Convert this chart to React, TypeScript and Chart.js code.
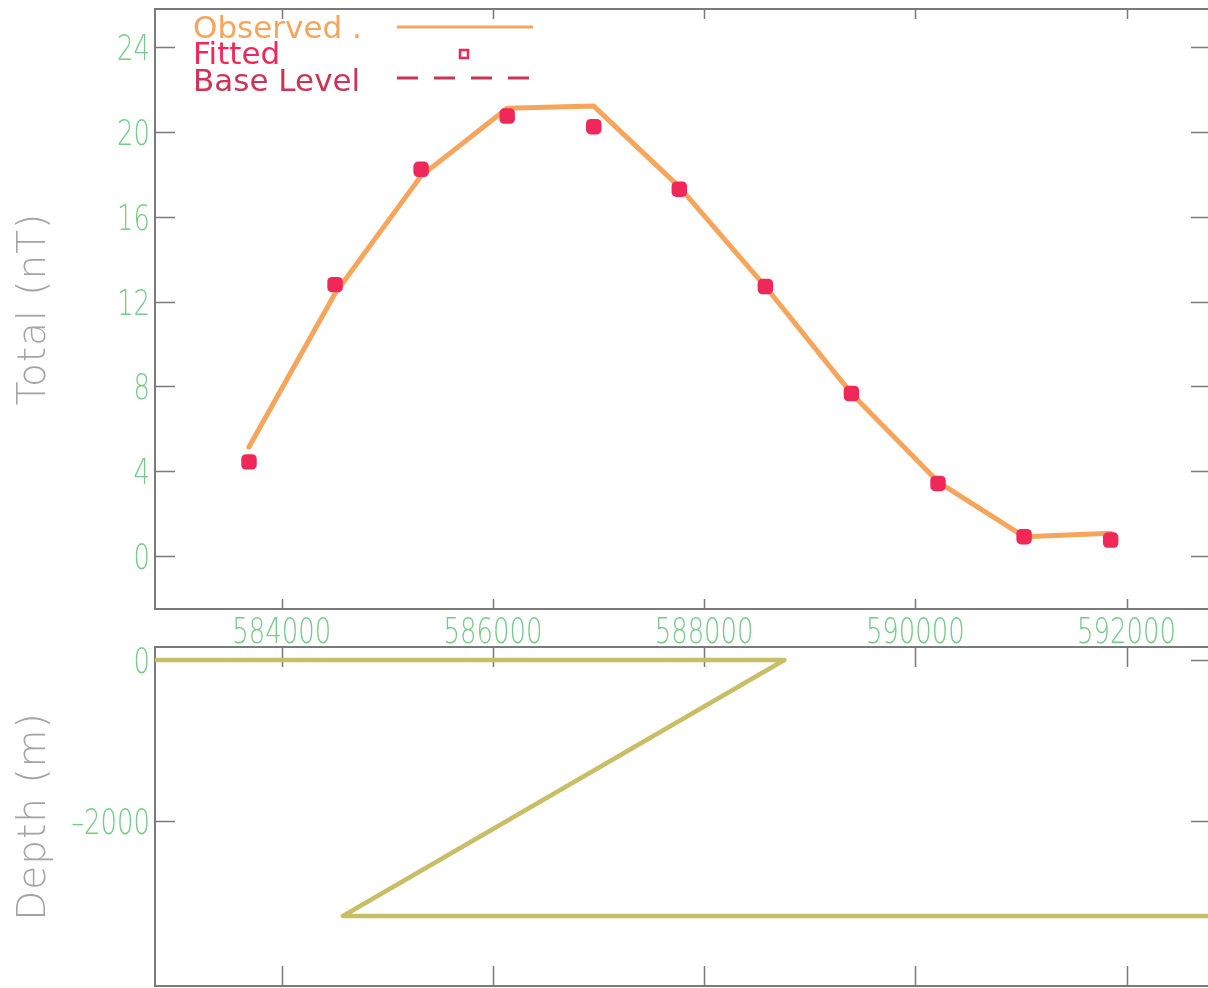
import React, { useEffect, useRef } from 'react';
import { Chart, registerables } from 'chart.js';

Chart.register(...registerables);

// Profile stations (easting, m) and total-field anomaly (nT)
const stationX = [583690, 584505, 585320, 586135, 586955, 587765, 588580, 589395, 590215, 591030, 591850];
const observedNT = [5.14, 12.38, 17.93, 21.12, 21.22, 17.41, 12.71, 7.67, 3.5, 0.91, 1.07];
const fittedNT = [4.44, 12.8, 18.24, 20.75, 20.25, 17.3, 12.71, 7.66, 3.42, 0.91, 0.75];

// Model body outline (easting, depth in m)
const bodyX = [582000, 588760, 584580, 594000];
const bodyDepth = [0, 0, -3180, -3180];

// Axis ticks
const xTicks = [584000, 586000, 588000, 590000, 592000];
const totalTicks = [0, 4, 8, 12, 16, 20, 24];
const depthTicks = [0, -2000];

// Legend entries
const legendLabels = ['Observed .', 'Fitted', 'Base Level'];

const C_OBS = '#F5A65C';
const C_FIT = '#F0285A';
const C_BASE = '#CC3355';
const C_BODY = '#C9BE66';
const C_FRAME = '#7A7A7A';
const C_TICKTXT = '#78CA8A';
const C_TITLE = '#A4A4A4';

const TICK_FONT = "200 35px 'DejaVu Sans', sans-serif";
const TICK_SQUEEZE = 0.74;

// Box frame with inward tick marks on all four sides
const framePlugin = {
  id: 'frame',
  beforeDatasetsDraw(chart: any, _args: any, opts: any) {
    const { ctx, chartArea: a, scales } = chart;
    ctx.save();
    ctx.strokeStyle = C_FRAME;
    ctx.lineWidth = 2;
    ctx.strokeRect(a.left, a.top, a.right - a.left, a.bottom - a.top);
    ctx.lineWidth = 1.5;
    ctx.beginPath();
    for (const t of scales.x.ticks) {
      const px = Math.round(scales.x.getPixelForValue(t.value)) + 0.5;
      ctx.moveTo(px, a.top);
      ctx.lineTo(px, a.top + opts.xLen);
      ctx.moveTo(px, a.bottom);
      ctx.lineTo(px, a.bottom - opts.xLen);
    }
    for (const t of scales.y.ticks) {
      const py = Math.round(scales.y.getPixelForValue(t.value)) + 0.5;
      ctx.moveTo(a.left, py);
      ctx.lineTo(a.left + opts.yLen, py);
      ctx.moveTo(a.right, py);
      ctx.lineTo(a.right - opts.yLen, py);
    }
    ctx.stroke();
    ctx.restore();
  },
};

// Condensed tick labels placed from the scales' own ticks
const tickLabelPlugin = {
  id: 'tickLabels',
  afterDraw(chart: any, _args: any, opts: any) {
    const { ctx, chartArea: a, scales } = chart;
    ctx.save();
    ctx.font = TICK_FONT;
    ctx.fillStyle = C_TICKTXT;
    ctx.textBaseline = 'alphabetic';
    const put = (text: string, x: number, y: number, align: CanvasTextAlign) => {
      ctx.save();
      ctx.translate(x, y);
      ctx.scale(TICK_SQUEEZE, 1);
      ctx.textAlign = align;
      ctx.fillText(text, 0, 0);
      ctx.restore();
    };
    if (opts.showX) {
      for (const t of scales.x.ticks) {
        put(String(t.value), scales.x.getPixelForValue(t.value), a.bottom + 34, 'center');
      }
    }
    for (const t of scales.y.ticks) {
      const txt = t.value < 0 ? '\u2013' + String(-t.value) : String(t.value);
      put(txt, a.left - 5, scales.y.getPixelForValue(t.value) + 13, 'right');
    }
    ctx.restore();
  },
};

// Rotated y-axis title, centred on the plot area
const yTitlePlugin = {
  id: 'yTitle',
  afterDraw(chart: any, _args: any, opts: any) {
    const { ctx, chartArea: a } = chart;
    ctx.save();
    ctx.translate(45, (a.top + a.bottom) / 2);
    ctx.rotate(-Math.PI / 2);
    ctx.font = "200 39px 'DejaVu Sans', sans-serif";
    ctx.fillStyle = C_TITLE;
    ctx.textAlign = 'center';
    ctx.textBaseline = 'alphabetic';
    (ctx as any).letterSpacing = '1px';
    ctx.fillText(opts.text, 0, 0);
    ctx.restore();
  },
};

// Legend block in the upper-left corner of the anomaly panel
const legendPlugin = {
  id: 'profileLegend',
  afterDraw(chart: any) {
    const { ctx } = chart;
    ctx.save();
    ctx.font = "31px 'DejaVu Sans', sans-serif";
    ctx.textAlign = 'left';
    ctx.textBaseline = 'alphabetic';
    const colors = [C_OBS, C_FIT, C_BASE];
    const baselines = [38, 64, 91];
    legendLabels.forEach((lbl, i) => {
      ctx.fillStyle = colors[i];
      ctx.fillText(lbl, 193, baselines[i]);
    });
    // Observed: solid line
    ctx.strokeStyle = C_OBS;
    ctx.lineWidth = 3;
    ctx.beginPath();
    ctx.moveTo(397, 27);
    ctx.lineTo(533, 27);
    ctx.stroke();
    // Fitted: small open square
    ctx.strokeStyle = C_FIT;
    ctx.lineWidth = 2.5;
    ctx.strokeRect(460, 50, 8, 8);
    // Base Level: dashed line
    ctx.strokeStyle = C_BASE;
    ctx.lineWidth = 3;
    ctx.setLineDash([21, 16]);
    ctx.beginPath();
    ctx.moveTo(397, 78);
    ctx.lineTo(531, 78);
    ctx.stroke();
    ctx.restore();
  },
};

const fixY = (s: any) => {
  s.width = 155;
  s.paddingTop = 0;
  s.paddingBottom = 0;
};

function ProfileChart() {
  const ref = useRef<HTMLCanvasElement>(null);
  useEffect(() => {
    if (!ref.current) return;
    const chart = new Chart(ref.current, {
      type: 'scatter',
      data: {
        datasets: [
          {
            label: 'Fitted',
            data: stationX.map((x, i) => ({ x, y: fittedNT[i] })),
            showLine: false,
            pointStyle: 'rectRounded',
            pointRadius: 9,
            pointBackgroundColor: C_FIT,
            pointBorderWidth: 0,
            order: 0,
          },
          {
            label: 'Observed',
            data: stationX.map((x, i) => ({ x, y: observedNT[i] })),
            showLine: true,
            borderColor: C_OBS,
            borderWidth: 5,
            borderJoinStyle: 'round',
            borderCapStyle: 'round',
            pointRadius: 0,
            tension: 0,
            order: 1,
          },
        ],
      },
      options: {
        responsive: false,
        animation: false,
        events: [],
        devicePixelRatio: 1,
        layout: { padding: { top: 7, right: 19, left: 0, bottom: 0 } },
        plugins: {
          legend: { display: false },
          tooltip: { enabled: false },
          frame: { xLen: 10, yLen: 20 },
          tickLabels: { showX: true },
          yTitle: { text: 'Total (nT)' },
        } as any,
        scales: {
          x: {
            type: 'linear',
            min: 582800,
            max: 592800,
            grid: { display: false, drawTicks: false },
            border: { display: false },
            ticks: { display: false },
            afterBuildTicks: (s: any) => { s.ticks = xTicks.map((v) => ({ value: v })); },
            afterFit: (s: any) => { s.height = 38; s.paddingLeft = 0; s.paddingRight = 0; },
          },
          y: {
            type: 'linear',
            min: -2.5,
            max: 25.8,
            grid: { display: false, drawTicks: false },
            border: { display: false },
            ticks: { display: false },
            afterBuildTicks: (s: any) => { s.ticks = totalTicks.map((v) => ({ value: v })); },
            afterFit: fixY,
          },
        },
      },
      plugins: [framePlugin, tickLabelPlugin, yTitlePlugin, legendPlugin],
    });
    return () => chart.destroy();
  }, []);
  return (
    <canvas
      ref={ref}
      width={1230}
      height={647}
      style={{ position: 'absolute', left: 0, top: 0, width: 1230, height: 647 }}
    />
  );
}

function DepthChart() {
  const ref = useRef<HTMLCanvasElement>(null);
  useEffect(() => {
    if (!ref.current) return;
    const chart = new Chart(ref.current, {
      type: 'scatter',
      data: {
        datasets: [
          {
            label: 'Body',
            data: bodyX.map((x, i) => ({ x, y: bodyDepth[i] })),
            showLine: true,
            borderColor: C_BODY,
            borderWidth: 4.5,
            borderJoinStyle: 'round',
            pointRadius: 0,
            tension: 0,
          },
        ],
      },
      options: {
        responsive: false,
        animation: false,
        events: [],
        devicePixelRatio: 1,
        layout: { padding: { top: 7, right: 19, left: 0, bottom: 2 } },
        plugins: {
          legend: { display: false },
          tooltip: { enabled: false },
          frame: { xLen: 20, yLen: 20 },
          tickLabels: { showX: false },
          yTitle: { text: 'Depth (m)' },
        } as any,
        scales: {
          x: {
            type: 'linear',
            display: false,
            min: 582800,
            max: 592800,
            afterBuildTicks: (s: any) => { s.ticks = xTicks.map((v) => ({ value: v })); },
          },
          y: {
            type: 'linear',
            min: -4050,
            max: 161,
            grid: { display: false, drawTicks: false },
            border: { display: false },
            ticks: { display: false },
            afterBuildTicks: (s: any) => { s.ticks = depthTicks.map((v) => ({ value: v })); },
            afterFit: fixY,
          },
        },
      },
      plugins: [framePlugin, tickLabelPlugin, yTitlePlugin],
    });
    return () => chart.destroy();
  }, []);
  return (
    <canvas
      ref={ref}
      width={1230}
      height={348}
      style={{ position: 'absolute', left: 0, top: 640, width: 1230, height: 348 }}
    />
  );
}

export default function App() {
  return (
    <div
      style={{
        position: 'fixed',
        left: 0,
        top: 0,
        width: 1208,
        height: 988,
        overflow: 'hidden',
        background: '#ffffff',
      }}
    >
      <ProfileChart />
      <DepthChart />
    </div>
  );
}
